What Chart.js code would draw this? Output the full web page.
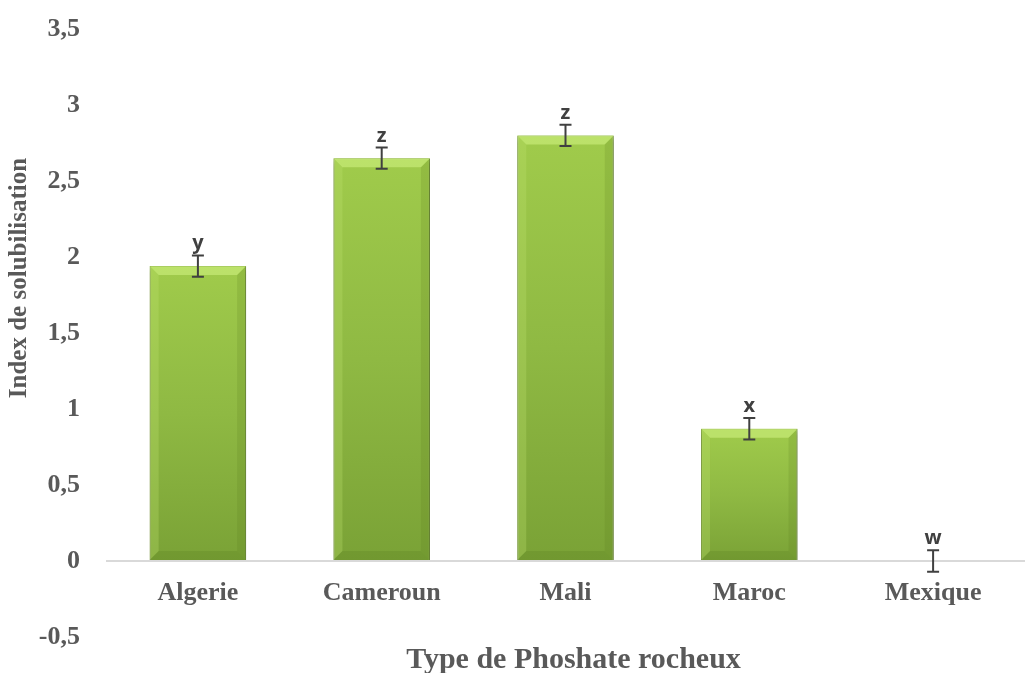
<!DOCTYPE html>
<html>
<head>
<meta charset="utf-8">
<script src="https://cdn.jsdelivr.net/npm/chart.js@4/dist/chart.umd.min.js"></script>
<style>
  html, body { margin: 0; padding: 0; background: #fff; }
  #wrap { width: 1031px; height: 673px; position: relative; }
</style>
</head>
<body>
<div id="wrap"><canvas id="barChart"></canvas></div>
<script>
const categories = ["Algerie", "Cameroun", "Mali", "Maroc", "Mexique"];
const solubilisation = [1.94, 2.65, 2.80, 0.87, 0];
const errors = [0.07, 0.07, 0.07, 0.07, 0.07];
const letters = ["y", "z", "z", "x", "w"];
const yTicks = [-0.5, 0, 0.5, 1, 1.5, 2, 2.5, 3, 3.5];
const xTitle = "Type de Phoshate rocheux";
const yTitle = "Index de solubilisation";

const textColor = "#595959";
const serif = "'Liberation Serif', 'Times New Roman', serif";

// axis titles, placed like in the excel original
const axisTitles = {
  id: "axisTitles",
  afterDraw(chart) {
    const ctx = chart.ctx;
    const area = chart.chartArea;
    ctx.save();
    ctx.fillStyle = textColor;
    ctx.textAlign = "center";
    ctx.textBaseline = "alphabetic";
    ctx.font = "bold 30px " + serif;
    ctx.fillText(xTitle, (area.left + area.right) / 2 + 8, 668);
    ctx.translate(26, 278);
    ctx.rotate(-Math.PI / 2);
    ctx.font = "bold 25px " + serif;
    ctx.fillText(yTitle, 0, 0);
    ctx.restore();
  }
};

// bevel look on the bars (light top, shaded sides)
const barBevel = {
  id: "barBevel",
  afterDatasetsDraw(chart) {
    const ctx = chart.ctx;
    const meta = chart.getDatasetMeta(0);
    ctx.save();
    meta.data.forEach((bar) => {
      const w = bar.width;
      const l = bar.x - w / 2, r = bar.x + w / 2;
      const t = bar.y, b = bar.base;
      const h = b - t;
      if (h < 4) return;
      const s = Math.min(9, h / 3);
      ctx.fillStyle = "rgba(200,235,120,0.7)";
      ctx.beginPath();
      ctx.moveTo(l, t); ctx.lineTo(r, t); ctx.lineTo(r - s, t + s); ctx.lineTo(l + s, t + s);
      ctx.closePath(); ctx.fill();
      ctx.fillStyle = "rgba(190,225,110,0.3)";
      ctx.beginPath();
      ctx.moveTo(l, t); ctx.lineTo(l + s, t + s); ctx.lineTo(l + s, b - s); ctx.lineTo(l, b);
      ctx.closePath(); ctx.fill();
      ctx.fillStyle = "rgba(90,120,30,0.18)";
      ctx.beginPath();
      ctx.moveTo(r, t); ctx.lineTo(r - s, t + s); ctx.lineTo(r - s, b - s); ctx.lineTo(r, b);
      ctx.closePath(); ctx.fill();
      ctx.fillStyle = "rgba(70,100,20,0.15)";
      ctx.beginPath();
      ctx.moveTo(l, b); ctx.lineTo(l + s, b - s); ctx.lineTo(r - s, b - s); ctx.lineTo(r, b);
      ctx.closePath(); ctx.fill();
    });
    ctx.restore();
  }
};

// whiskers + letters over each bar
const errorBars = {
  id: "errorBars",
  afterDatasetsDraw(chart) {
    const ctx = chart.ctx;
    const y = chart.scales.y;
    const meta = chart.getDatasetMeta(0);
    ctx.save();
    ctx.strokeStyle = "#404040";
    ctx.lineWidth = 2;
    meta.data.forEach((bar, i) => {
      const x = bar.x;
      const top = y.getPixelForValue(solubilisation[i] + errors[i]);
      const bot = y.getPixelForValue(solubilisation[i] - errors[i]);
      ctx.beginPath();
      ctx.moveTo(x, top); ctx.lineTo(x, bot);
      ctx.moveTo(x - 6, top); ctx.lineTo(x + 6, top);
      ctx.moveTo(x - 6, bot); ctx.lineTo(x + 6, bot);
      ctx.stroke();
      ctx.fillStyle = "#404040";
      ctx.font = "bold 20px 'Open Sans', sans-serif";
      ctx.textAlign = "center";
      ctx.textBaseline = "alphabetic";
      ctx.fillText(letters[i], x, top - 6);
    });
    ctx.restore();
  }
};

// soft shadow under the bars
const barShadow = {
  id: "barShadow",
  beforeDatasetDraw(chart) {
    const ctx = chart.ctx;
    ctx.save();
    ctx.shadowColor = "rgba(0,0,0,0.35)";
    ctx.shadowBlur = 6;
    ctx.shadowOffsetY = 3;
  },
  afterDatasetDraw(chart) {
    chart.ctx.restore();
  }
};

const barFill = (context) => {
  const chart = context.chart;
  const { ctx, chartArea, scales } = chart;
  if (!chartArea) return "#8db440";
  const v = solubilisation[context.dataIndex];
  const top = scales.y.getPixelForValue(v);
  const bot = scales.y.getPixelForValue(0);
  if (bot - top < 2) return "#8db440";
  const g = ctx.createLinearGradient(0, top, 0, bot);
  g.addColorStop(0, "#a0cb4b");
  g.addColorStop(0.5, "#8fb943");
  g.addColorStop(1, "#7aa236");
  return g;
};

new Chart(document.getElementById("barChart"), {
  type: "bar",
  data: {
    labels: categories,
    datasets: [{
      label: yTitle,
      data: solubilisation,
      backgroundColor: barFill,
      borderColor: "#6b8f2c",
      borderWidth: 1,
      barPercentage: 0.525,
      categoryPercentage: 1
    }]
  },
  options: {
    responsive: true,
    maintainAspectRatio: false,
    animation: false,
    layout: { padding: { top: 29, right: 6, left: 0, bottom: 36 } },
    plugins: {
      legend: { display: false },
      tooltip: { enabled: false },
      title: { display: false }
    },
    scales: {
      x: {
        position: { y: 0 },
        afterFit: (scale) => { scale.height = 0; scale.paddingTop = 0; scale.paddingBottom = 0; },
        grid: { display: false },
        border: { display: false },
        ticks: {
          color: textColor,
          padding: 9,
          font: { family: serif, size: 26, weight: "bold" }
        }
      },
      y: {
        min: -0.5,
        max: 3.5,
        afterBuildTicks: (scale) => { scale.ticks = yTicks.map(v => ({ value: v })); },
        afterFit: (scale) => { scale.width = 106; scale.paddingTop = 0; scale.paddingBottom = 0; },
        border: { display: false },
        grid: {
          drawTicks: false,
          color: (c) => c.tick && c.tick.value === 0 ? "#d9d9d9" : "rgba(0,0,0,0)",
          lineWidth: 2
        },
        ticks: {
          color: textColor,
          padding: 26,
          font: { family: serif, size: 26, weight: "bold" },
          callback: (v) => String(v).replace(".", ",")
        }
      }
    }
  },
  plugins: [barShadow, barBevel, errorBars, axisTitles]
});
</script>
</body>
</html>
